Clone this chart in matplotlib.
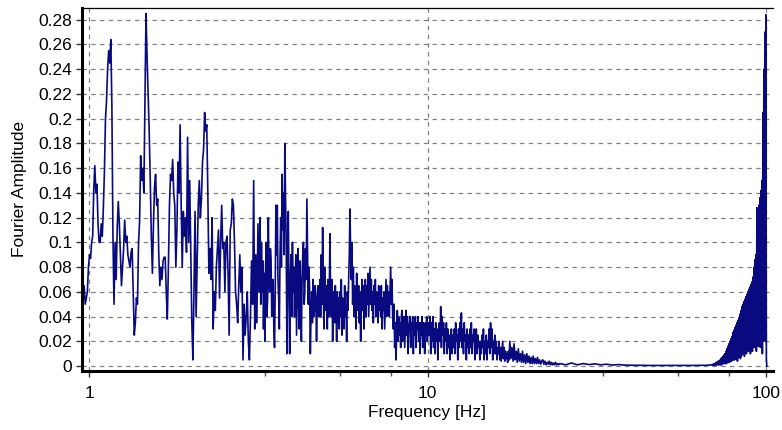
import numpy as np
import matplotlib
matplotlib.use("Agg")
import matplotlib.pyplot as plt

plt.rcParams['font.family'] = ['Liberation Sans', 'DejaVu Sans']

# Segment edges in Hz (values in each segment are read left to right, evenly spaced on the log axis)
seg_edges_hz = [0.953, 3.20, 4.81, 10.17, 17.5, 24.6, 69.3, 100.6]

amp_1 = [0.06, 0.055, 0.065, 0.05, 0.055, 0.06, 0.08, 0.09, 0.087, 0.1, 0.105, 0.143, 0.162, 0.14,
         0.147, 0.115, 0.1, 0.1, 0.115, 0.105, 0.128, 0.157, 0.2, 0.215, 0.24, 0.255, 0.245, 0.264,
         0.21, 0.105, 0.05, 0.1, 0.07, 0.112, 0.133, 0.115, 0.09, 0.065, 0.08, 0.095, 0.118, 0.1,
         0.105, 0.09, 0.085, 0.08, 0.092, 0.095, 0.06, 0.025, 0.035, 0.055, 0.05, 0.1, 0.117, 0.17,
         0.15, 0.16, 0.14, 0.21, 0.285, 0.25, 0.22, 0.19, 0.15, 0.105, 0.075, 0.115, 0.145, 0.155,
         0.13, 0.135, 0.09, 0.065, 0.08, 0.07, 0.085, 0.088, 0.088, 0.06, 0.038, 0.08, 0.13, 0.155,
         0.15, 0.167, 0.14, 0.13, 0.08, 0.11, 0.165, 0.14, 0.195, 0.13, 0.08, 0.125, 0.105, 0.12,
         0.092, 0.185, 0.1, 0.15, 0.095, 0.035, 0.005, 0.06, 0.125, 0.04, 0.085, 0.13, 0.15, 0.12,
         0.135, 0.165, 0.175, 0.205, 0.19, 0.195, 0.14, 0.075, 0.095, 0.07, 0.12, 0.03, 0.06, 0.045,
         0.08, 0.095, 0.11, 0.055, 0.1, 0.13, 0.095, 0.1, 0.06, 0.1, 0.105, 0.075, 0.025, 0.11,
         0.115, 0.135, 0.13, 0.1, 0.06, 0.05, 0.035, 0.065, 0.09, 0.06, 0.08, 0.005, 0.05, 0.025,
         0.04, 0.06, 0.02, 0.005, 0.04, 0.085, 0.05, 0.15, 0.03, 0.09, 0.035, 0.115, 0.06]

amp_2 = [0.12, 0.05, 0.1, 0.06, 0.085, 0.03, 0.075, 0.02, 0.08, 0.1, 0.04, 0.055, 0.12, 0.07,
         0.06, 0.095, 0.085, 0.04, 0.05, 0.07, 0.03, 0.015, 0.06, 0.13, 0.09, 0.13, 0.07, 0.055,
         0.03, 0.09, 0.12, 0.08, 0.155, 0.11, 0.14, 0.09, 0.18, 0.135, 0.1, 0.01, 0.08, 0.125,
         0.06, 0.01, 0.07, 0.09, 0.04, 0.1, 0.06, 0.08, 0.04, 0.07, 0.09, 0.025, 0.06, 0.095,
         0.05, 0.03, 0.085, 0.06, 0.02, 0.07, 0.09, 0.1, 0.05, 0.06, 0.095, 0.07, 0.135, 0.09,
         0.05, 0.08, 0.06, 0.01, 0.04, 0.06, 0.035, 0.07, 0.04, 0.045, 0.065, 0.055, 0.02, 0.05,
         0.065, 0.04, 0.05]

amp_3 = [0.07, 0.04, 0.09, 0.05, 0.112, 0.06, 0.03, 0.08, 0.045, 0.05, 0.065, 0.03, 0.07, 0.04, 0.06,
         0.107, 0.05, 0.04, 0.07, 0.02, 0.06, 0.05, 0.035, 0.065, 0.045, 0.02, 0.06, 0.035, 0.055, 0.03,
         0.06, 0.04, 0.07, 0.025, 0.055, 0.045, 0.03, 0.065, 0.04, 0.05, 0.02, 0.06, 0.045, 0.07, 0.09,
         0.127, 0.09, 0.07, 0.1, 0.05, 0.08, 0.04, 0.065, 0.06, 0.03, 0.075, 0.045, 0.05, 0.065, 0.035,
         0.06, 0.02, 0.05, 0.07, 0.045, 0.065, 0.03, 0.055, 0.07, 0.04, 0.065, 0.05, 0.075, 0.04, 0.06,
         0.08, 0.05, 0.07, 0.045, 0.06, 0.035, 0.065, 0.05, 0.07, 0.04, 0.06, 0.055, 0.035, 0.065, 0.045,
         0.06, 0.04, 0.065, 0.03, 0.055, 0.045, 0.06, 0.03, 0.05, 0.07, 0.04, 0.065, 0.05, 0.06, 0.04,
         0.06, 0.08, 0.05, 0.07, 0.04, 0.03, 0.05, 0.015, 0.035, 0.005, 0.03, 0.045, 0.02, 0.04, 0.025,
         0.035, 0.015, 0.04, 0.045, 0.02, 0.035, 0.04, 0.015, 0.03, 0.045, 0.025, 0.04, 0.01, 0.03, 0.035,
         0.04, 0.015, 0.035, 0.03, 0.04, 0.01, 0.035, 0.025, 0.04, 0.015, 0.035, 0.03, 0.04, 0.02, 0.035,
         0.01, 0.035, 0.025, 0.04, 0.015, 0.035, 0.03, 0.01, 0.035, 0.025, 0.04, 0.02, 0.03, 0.035, 0.025]

amp_4 = [0.04, 0.01, 0.035, 0.02, 0.04, 0.015, 0.03, 0.01, 0.035, 0.02, 0.03, 0.005, 0.025, 0.035,
         0.02, 0.048, 0.015, 0.04, 0.025, 0.035, 0.01, 0.03, 0.02, 0.035, 0.01, 0.03, 0.015, 0.025,
         0.005, 0.02, 0.03, 0.01, 0.025, 0.015, 0.03, 0.01, 0.035, 0.02, 0.025, 0.005, 0.03, 0.015,
         0.035, 0.02, 0.043, 0.015, 0.03, 0.01, 0.035, 0.02, 0.025, 0.005, 0.03, 0.015, 0.025, 0.01,
         0.03, 0.015, 0.035, 0.01, 0.025, 0.02, 0.03, 0.005, 0.02, 0.03, 0.01, 0.025, 0.015, 0.02,
         0.005, 0.02, 0.01, 0.025, 0.015, 0.03, 0.005, 0.02, 0.01, 0.025, 0.005, 0.02, 0.015, 0.03,
         0.01, 0.035, 0.015, 0.03, 0.005, 0.02, 0.01, 0.025, 0.01, 0.02, 0.005, 0.015, 0.01, 0.02,
         0.005, 0.015, 0.004, 0.012, 0.02, 0.006, 0.015, 0.004, 0.012, 0.006, 0.01, 0.003, 0.012, 0.005]

amp_5 = [0.02, 0.006, 0.015, 0.004, 0.018, 0.005, 0.012, 0.003, 0.014, 0.004, 0.01, 0.003,
         0.012, 0.003, 0.009, 0.002, 0.01, 0.003, 0.008, 0.002, 0.007, 0.002,
         0.008, 0.002, 0.006, 0.002, 0.007, 0.002, 0.005, 0.0015, 0.004,
         0.005, 0.0015, 0.004, 0.001, 0.003, 0.0015, 0.004, 0.001,
         0.003, 0.001, 0.0025, 0.001, 0.003, 0.001, 0.002, 0.001]

amp_6 = [0.002, 0.001, 0.0025, 0.001, 0.002, 0.0012, 0.0018, 0.001, 0.0015, 0.0008, 0.0012,
         0.0008, 0.0007, 0.0006, 0.0006, 0.0005, 0.0005, 0.0005, 0.0005, 0.0005, 0.0005, 0.0005,
         0.0005, 0.0005, 0.0006, 0.0006]

amp_7 = [0.001, 0.0005, 0.0015, 0.0005, 0.002, 0.0005, 0.002, 0.001, 0.003, 0.001, 0.003, 0.001,
         0.004, 0.001, 0.004, 0.001, 0.005, 0.001, 0.006, 0.001, 0.007, 0.002, 0.008, 0.002,
         0.009, 0.002, 0.01, 0.002, 0.012, 0.002, 0.014, 0.003, 0.016, 0.003, 0.018, 0.003,
         0.02, 0.004, 0.022, 0.004, 0.024, 0.005, 0.027, 0.005, 0.029, 0.005, 0.031, 0.006,
         0.033, 0.006, 0.035, 0.004, 0.037, 0.007, 0.039, 0.008, 0.042, 0.006, 0.045, 0.008,
         0.048, 0.01, 0.05, 0.012, 0.052, 0.008, 0.054, 0.012, 0.056, 0.01, 0.058, 0.014,
         0.06, 0.012, 0.062, 0.015, 0.064, 0.01, 0.066, 0.016, 0.068, 0.012, 0.072, 0.02,
         0.08, 0.015, 0.086, 0.02, 0.09, 0.012, 0.128, 0.02, 0.124, 0.016, 0.13, 0.025,
         0.136, 0.015, 0.142, 0.02, 0.15, 0.01, 0.205, 0.02, 0.24, 0.03, 0.27, 0.02, 0.284,
         0.005, 0.0]

segments = [amp_1, amp_2, amp_3, amp_4, amp_5, amp_6, amp_7]

y_ticks = [0, 0.02, 0.04, 0.06, 0.08, 0.1, 0.12, 0.14, 0.16, 0.18, 0.2, 0.22, 0.24, 0.26, 0.28]
y_tick_labels = ['0', '0.02', '0.04', '0.06', '0.08', '0.1', '0.12', '0.14', '0.16', '0.18',
                 '0.2', '0.22', '0.24', '0.26', '0.28']
x_ticks = [1, 10, 100]
x_tick_labels = ['1', '10', '100']
x_minor_ticks = [3.3, 5.5, 7.8, 33, 55, 78]

freq_parts = []
amp_parts = []
for i, vals in enumerate(segments):
    lo, hi = seg_edges_hz[i], seg_edges_hz[i + 1]
    last = (i == len(segments) - 1)
    f = np.geomspace(lo, hi, len(vals), endpoint=last)
    freq_parts.append(f)
    amp_parts.append(np.array(vals))
freq = np.concatenate(freq_parts)
amp = np.concatenate(amp_parts)

fig = plt.figure(figsize=(7.82, 4.30), dpi=100)
ax = fig.add_axes([0.1049, 0.1372, 0.8836, 0.8442])

ax.plot(freq, amp, color='#0a0a80', lw=1.2)

ax.set_xscale('log')
ax.set_xlim(0.953, 104.9)
ax.set_ylim(-0.004, 0.2895)

ax.set_xticks(x_ticks)
ax.set_xticklabels(x_tick_labels)
ax.set_xticks(x_minor_ticks, minor=True)
ax.set_xticklabels([], minor=True)
ax.set_yticks(y_ticks)
ax.set_yticklabels(y_tick_labels)

ax.tick_params(axis='both', which='major', labelsize=12.5, direction='out', length=4, width=1,
               color='#333333')
ax.tick_params(axis='x', which='major', pad=7)
ax.tick_params(axis='y', which='major', pad=3)
ax.tick_params(axis='x', which='minor', direction='out', length=3.5, width=1, color='#555555')
ax.tick_params(axis='y', which='minor', left=False)

ax.set_axisbelow(True)
ax.grid(True, which='major', axis='both', color='#808080', linestyle=(0, (3.5, 3.5)), lw=0.9)

ax.spines['left'].set_linewidth(2.2)
ax.spines['bottom'].set_linewidth(2.2)
ax.spines['top'].set_linewidth(0.9)
ax.spines['right'].set_visible(False)

fig.text(427 / 782, 1 - 413 / 430, 'Frequency [Hz]', ha='center', va='center', fontsize=12.5)
fig.text(20 / 782, 1 - 189 / 430, 'Fourier Amplitude', ha='center', va='center',
         rotation=90, fontsize=12.5)

fig.savefig('out.png', dpi=100)
